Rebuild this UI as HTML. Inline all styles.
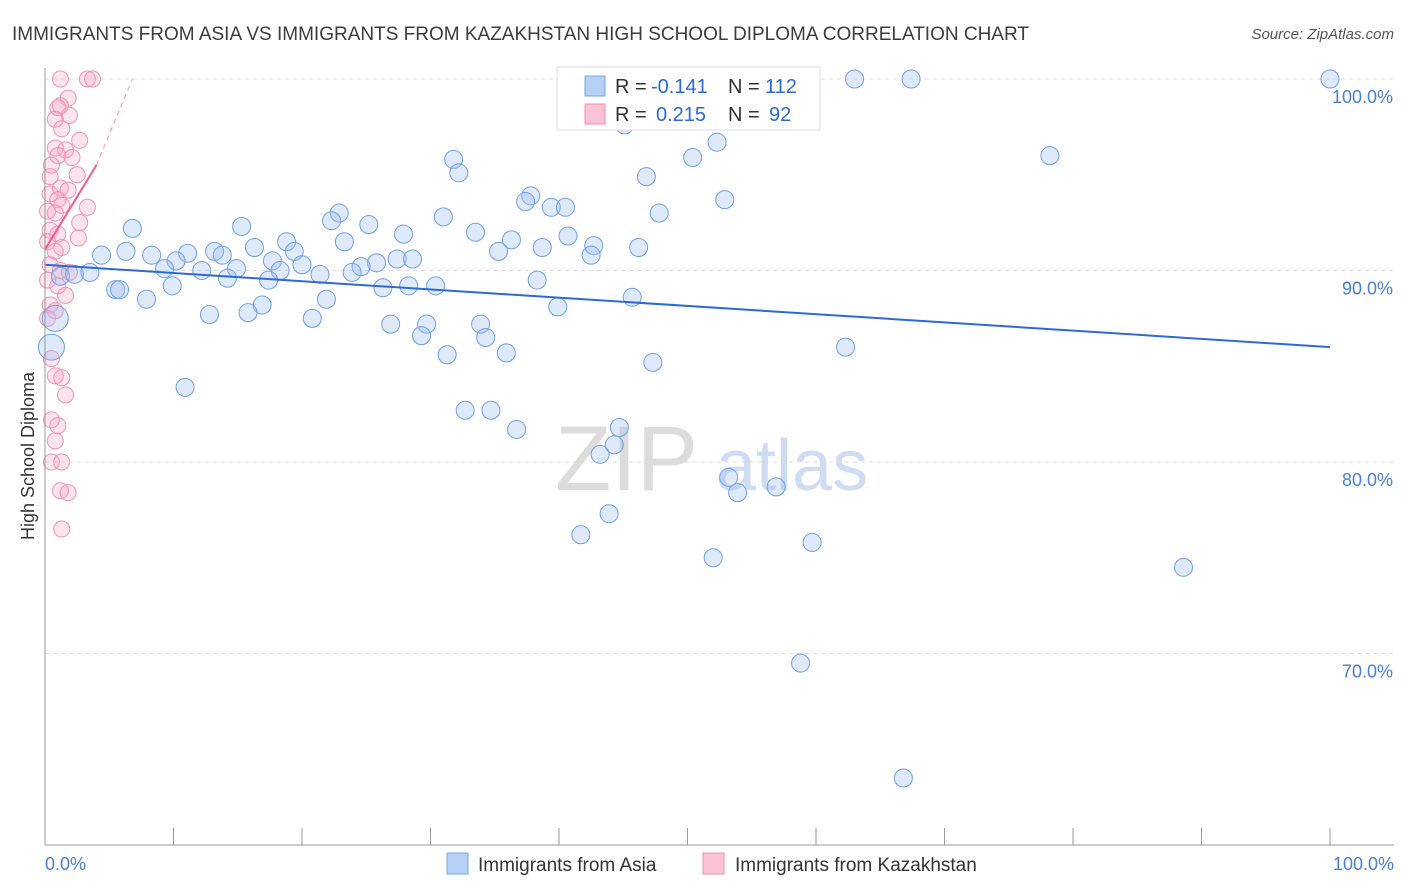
<!DOCTYPE html>
<html><head><meta charset="utf-8"><style>
body{margin:0;background:#fff;font-family:"Liberation Sans",sans-serif;}
#wrap{position:relative;width:1406px;height:892px;overflow:hidden;}
svg text{font-family:"Liberation Sans",sans-serif;}
</style></head><body>
<div id="wrap">
<svg id="chart" width="1406" height="892">
<text x="12" y="40" font-size="19" fill="#3c3c3c">IMMIGRANTS FROM ASIA VS IMMIGRANTS FROM KAZAKHSTAN HIGH SCHOOL DIPLOMA CORRELATION CHART</text>
<text x="1394" y="39" font-size="15" fill="#555" text-anchor="end" font-style="italic">Source: ZipAtlas.com</text>
<text x="34" y="456" font-size="18" fill="#333" text-anchor="middle" transform="rotate(-90 34 456)">High School Diploma</text>
<text x="555" y="490" font-size="92" fill="#dcdcdc" font-family="Liberation Serif">ZIP</text>
<text x="716" y="490" font-size="72" fill="#cfdcf2">atlas</text>
<g id="grid"></g><g id="pts"></g><g id="lines"></g>
<line x1="45" y1="68" x2="45" y2="845" stroke="#999"/>
<line x1="45" y1="845" x2="1394" y2="845" stroke="#999"/>
<text x="45" y="870" font-size="18" fill="#4a7fd4">0.0%</text>
<text x="1394" y="870" font-size="18" fill="#4a7fd4" text-anchor="end">100.0%</text>
<g>
<rect x="557" y="67" width="263" height="63" fill="#fff" stroke="#ddd"/>
<rect x="585" y="76" width="20" height="20" fill="#b5cff5" stroke="#7aa7e8"/>
<rect x="585" y="104" width="20" height="20" fill="#f9c3d5" stroke="#f08db0"/>
<text x="615" y="93" font-size="20" fill="#333">R =</text>
<text x="651" y="93" font-size="20" fill="#2d6ad4">-0.141</text>
<text x="728" y="93" font-size="20" fill="#333">N =</text>
<text x="765" y="93" font-size="20" fill="#2d6ad4">112</text>
<text x="615" y="121" font-size="20" fill="#333">R =</text>
<text x="656" y="121" font-size="20" fill="#2d6ad4">0.215</text>
<text x="728" y="121" font-size="20" fill="#333">N =</text>
<text x="769" y="121" font-size="20" fill="#2d6ad4">92</text>
</g>
<g>
<rect x="447" y="853" width="21" height="21" fill="#b5cff5" stroke="#7aa7e8"/>
<text x="478" y="871" font-size="19" fill="#333">Immigrants from Asia</text>
<rect x="703" y="853" width="21" height="21" fill="#f9c3d5" stroke="#f08db0"/>
<text x="735" y="871" font-size="19" fill="#333">Immigrants from Kazakhstan</text>
</g>
</svg></div>
<script>
const yTicks=[100,90,80,70];
const yTickLabels=["100.0%","90.0%","80.0%","70.0%"];
const xTicks=[0,10,20,30,40,50,60,70,80,90,100];
const asiaX=[63.0,67.4,100,55.6,45.1,52.3,50.4,78.2,31.8,32.2,46.8,37.8,37.4,52.9,39.4,40.5,47.8,22.9,22.3,31.0,6.8,15.3,25.2,33.5,27.9,40.7,18.8,23.3,36.3,42.7,46.2,38.7,16.3,6.3,35.3,4.4,11.1,13.2,8.3,10.2,13.8,19.4,42.5,27.4,28.6,17.7,25.8,20.0,9.3,14.9,12.2,18.3,24.6,23.9,21.4,14.2,17.4,38.3,1.2,2.3,3.5,9.9,26.3,28.3,30.4,5.5,5.8,7.9,21.9,45.7,16.9,39.9,15.8,12.8,20.8,26.9,29.7,33.9,29.3,34.3,62.3,35.9,31.3,47.3,10.9,32.7,34.7,36.7,44.7,44.3,43.2,53.2,53.9,56.9,43.9,41.7,59.7,52.0,88.6,58.8,66.8,0.5,0.8];
const asiaY=[100,100,100,98.6,97.6,96.7,95.9,96.0,95.8,95.1,94.9,93.9,93.6,93.7,93.3,93.3,93.0,93.0,92.6,92.8,92.2,92.3,92.4,92.0,91.9,91.8,91.5,91.5,91.6,91.3,91.2,91.2,91.2,91.0,91.0,90.8,90.9,91.0,90.8,90.5,90.8,91.0,90.8,90.6,90.6,90.5,90.4,90.3,90.1,90.1,90.0,90.0,90.2,89.9,89.8,89.6,89.5,89.5,89.7,89.8,89.9,89.2,89.1,89.2,89.2,89.0,89.0,88.5,88.5,88.6,88.2,88.1,87.8,87.7,87.5,87.2,87.2,87.2,86.6,86.5,86.0,85.7,85.6,85.2,83.9,82.7,82.7,81.7,81.8,80.9,80.4,79.2,78.4,78.7,77.3,76.2,75.8,75.0,74.5,69.5,63.5,86.0,87.5];
const kazX=[1.2,3.3,3.7,1.8,1.2,1.0,1.9,0.8,1.3,2.7,0.8,1.6,1.0,2.1,0.5,0.4,2.5,1.2,1.8,0.4,1.0,1.3,3.3,0.2,0.8,2.7,0.4,1.0,2.6,0.2,1.3,0.8,0.4,1.2,1.9,0.2,1.0,1.6,0.4,0.8,0.2,0.5,0.8,1.3,1.6,0.5,1.0,0.8,0.5,1.3,1.2,1.8,1.3];
const kazY=[100,100,100,99.0,98.6,98.5,98.1,97.9,97.4,96.8,96.4,96.3,96.0,95.9,95.5,94.9,95.0,94.3,94.2,94.0,93.7,93.4,93.3,93.1,93.0,92.5,92.1,91.9,91.7,91.5,91.2,91.0,90.3,90.0,89.9,89.5,89.2,88.7,88.2,87.9,87.5,85.4,84.5,84.4,83.5,82.2,81.9,81.1,80.0,80.0,78.5,78.4,76.5];
const asiaTrend=[0,90.3,100,86.0];
const kazTrend=[0,91.1,4.0,95.5,6.8,100];
const X=v=>45+v*12.85, Y=v=>79+(100-v)*19.15;
const NS="http://www.w3.org/2000/svg";
function mk(t,a,p){const e=document.createElementNS(NS,t);for(const k in a)e.setAttribute(k,a[k]);p.appendChild(e);return e;}
const grid=document.getElementById('grid');
yTicks.forEach((v,i)=>{
 const l=mk('line',{x1:45,x2:1394,y1:Y(v),y2:Y(v),stroke:'#ddd','stroke-dasharray':'4,4'},grid);
 
 
 const t=mk('text',{x:1393,y:Y(v)+24,'font-size':18,fill:'#4a7fd4','text-anchor':'end'},grid);
 t.textContent=yTickLabels[i];
 
 
});
xTicks.forEach(v=>{
 const l=mk('line',{x1:X(v),x2:X(v),y1:828,y2:845,stroke:'#999'},grid);
 
 
});
const pts=document.getElementById('pts');
kazX.forEach((x,i)=>{
 const c=mk('circle',{cx:X(x),cy:Y(kazY[i]),r:8,fill:'rgba(246,165,195,0.3)',stroke:'#f093b5','stroke-width':1},pts);
 
 
});
asiaX.forEach((x,i)=>{
 const big=i>=asiaX.length-2;
 const c=mk('circle',{cx:X(x),cy:Y(asiaY[i]),r:big?13:9,fill:'rgba(160,192,242,0.35)',stroke:'#6f9fe6','stroke-width':1},pts);
 
 
});
const lines=document.getElementById('lines');
const a=mk('line',{x1:X(asiaTrend[0]),y1:Y(asiaTrend[1]),x2:X(asiaTrend[2]),y2:Y(asiaTrend[3]),stroke:'#2d6ad4','stroke-width':2},lines);


const k=mk('line',{x1:X(kazTrend[0]),y1:Y(kazTrend[1]),x2:X(kazTrend[2]),y2:Y(kazTrend[3]),stroke:'#ee5f92','stroke-width':2},lines);


const kd=mk('line',{x1:X(kazTrend[2]),y1:Y(kazTrend[3]),x2:X(kazTrend[4]),y2:Y(kazTrend[5]),stroke:'#f4a0be','stroke-width':1.2,'stroke-dasharray':'5,4'},lines);


</script>
</body></html>
